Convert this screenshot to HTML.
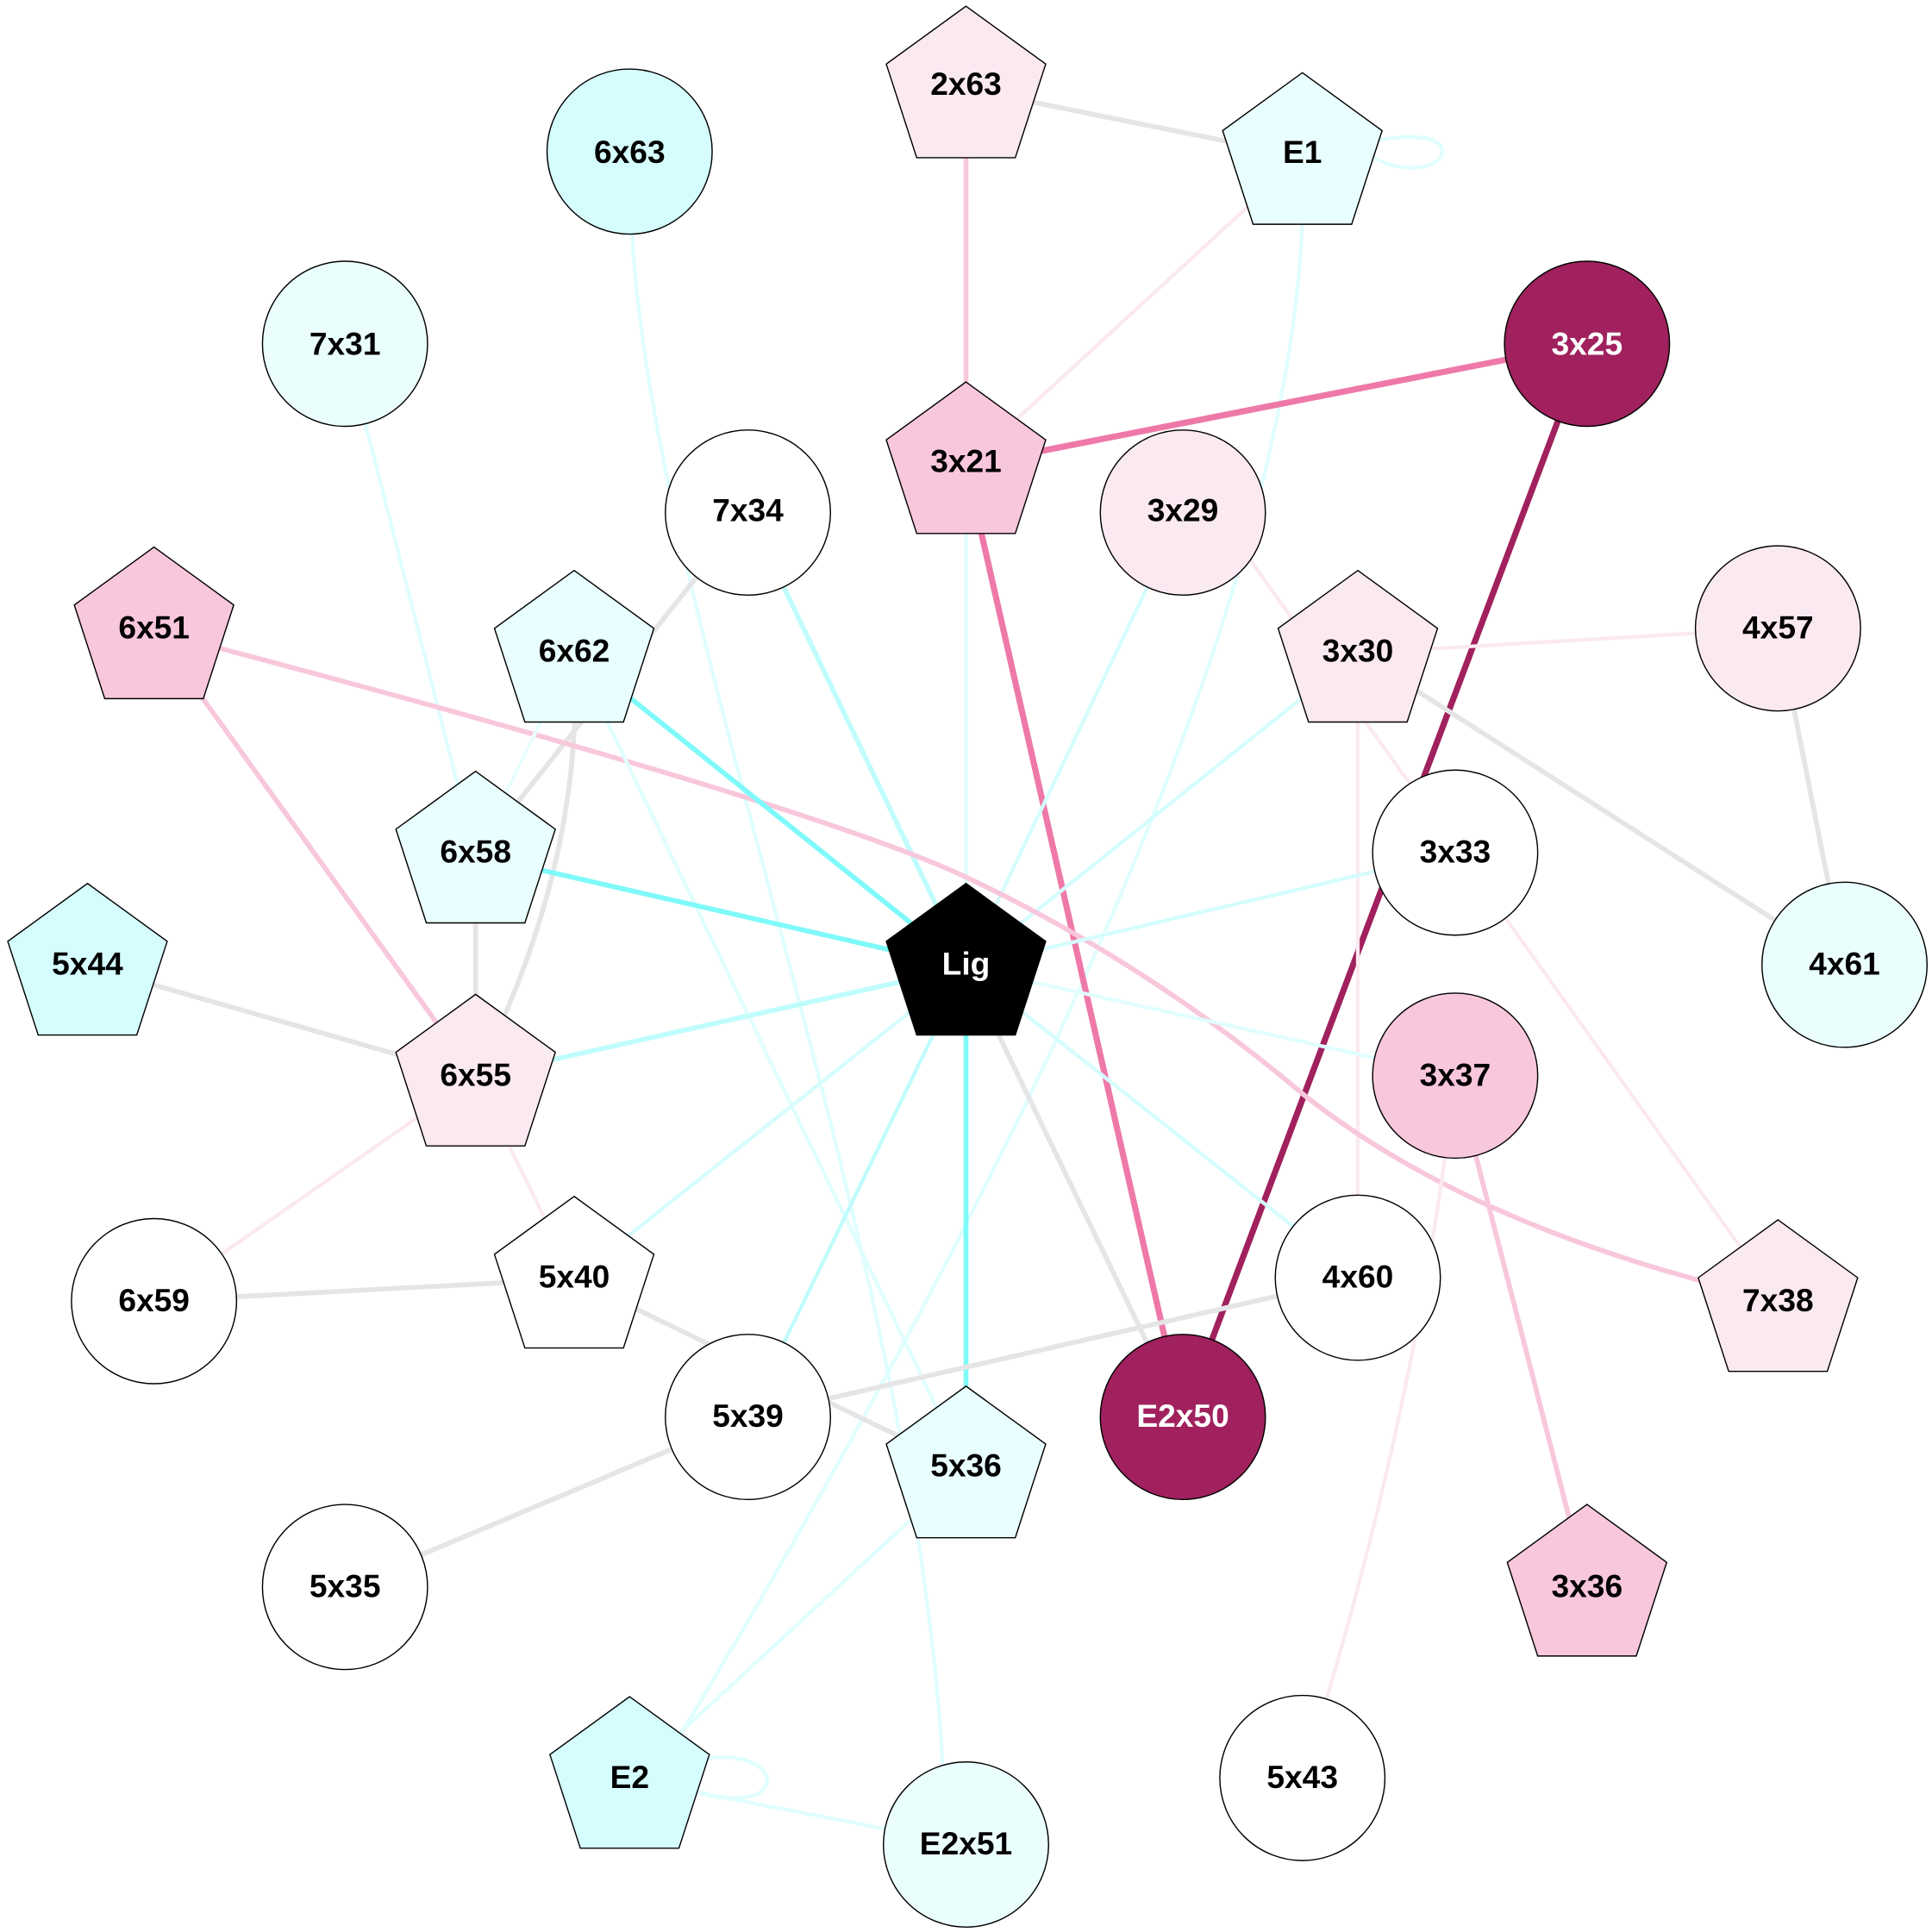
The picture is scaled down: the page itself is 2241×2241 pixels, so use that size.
<!DOCTYPE html>
<html><head><style>html,body{margin:0;padding:0;background:#fff}svg{display:block}</style></head>
<body>
<svg width="2241" height="2241" viewBox="0 0 1568 1568" xmlns="http://www.w3.org/2000/svg">
<g fill="none" stroke-linecap="round">
<line x1="784" y1="72" x2="1057" y2="127" stroke="#e5e5e5" stroke-width="4"/>
<line x1="784" y1="72" x2="784" y2="378" stroke="#f8c7dc" stroke-width="4"/>
<line x1="1057" y1="127" x2="784" y2="378" stroke="#fbe9f1" stroke-width="3"/>
<path d="M1057 180 Q1040 600 545 1420" stroke="#e0fefe" stroke-width="3"/>
<path d="M1110 125 C1140 145 1175 135 1170 120 C1165 108 1130 110 1115 115" stroke="#e0fefe" stroke-width="3"/>
<line x1="784" y1="378" x2="1288" y2="279" stroke="#ee79a8" stroke-width="5"/>
<line x1="1288" y1="279" x2="960" y2="1150" stroke="#a0215e" stroke-width="5"/>
<line x1="784" y1="378" x2="960" y2="1150" stroke="#ee79a8" stroke-width="5"/>
<line x1="784" y1="378" x2="784" y2="785" stroke="#e0fefe" stroke-width="3"/>
<path d="M513 190 C530 500 740 1000 765 1430" stroke="#e0fefe" stroke-width="3"/>
<line x1="280" y1="279" x2="386" y2="694" stroke="#e0fefe" stroke-width="3"/>
<line x1="607" y1="416" x2="784" y2="785" stroke="#c0fcfc" stroke-width="4"/>
<line x1="607" y1="416" x2="386" y2="694" stroke="#e5e5e5" stroke-width="4"/>
<path d="M466 530 Q475 700 386 874" stroke="#e5e5e5" stroke-width="4"/>
<line x1="960" y1="416" x2="784" y2="785" stroke="#d5fdfd" stroke-width="3"/>
<line x1="1015" y1="455" x2="1443" y2="1055" stroke="#fbe9f1" stroke-width="3"/>
<line x1="1102" y1="530" x2="1443" y2="510" stroke="#fbe9f1" stroke-width="3"/>
<line x1="1102" y1="530" x2="1497" y2="783" stroke="#e5e5e5" stroke-width="4"/>
<line x1="1102" y1="530" x2="1102" y2="1037" stroke="#fbe9f1" stroke-width="3"/>
<line x1="1102" y1="530" x2="784" y2="785" stroke="#d5fdfd" stroke-width="3"/>
<line x1="1443" y1="510" x2="1497" y2="783" stroke="#e5e5e5" stroke-width="4"/>
<path d="M125 512 Q650 650 780 710 Q930 780 1060 890 Q1200 1000 1443 1055" stroke="#f8c7dc" stroke-width="4"/>
<line x1="125" y1="512" x2="386" y2="874" stroke="#f8c7dc" stroke-width="4"/>
<line x1="466" y1="530" x2="784" y2="785" stroke="#7ff9f9" stroke-width="4"/>
<line x1="466" y1="530" x2="386" y2="694" stroke="#e9fefe" stroke-width="3"/>
<line x1="466" y1="530" x2="784" y2="1192" stroke="#e0fefe" stroke-width="3"/>
<line x1="386" y1="694" x2="784" y2="785" stroke="#7ff9f9" stroke-width="4"/>
<line x1="386" y1="694" x2="386" y2="874" stroke="#e5e5e5" stroke-width="4"/>
<line x1="1181" y1="692" x2="784" y2="785" stroke="#d5fdfd" stroke-width="3"/>
<line x1="71" y1="784" x2="386" y2="874" stroke="#e5e5e5" stroke-width="4"/>
<line x1="386" y1="874" x2="784" y2="785" stroke="#c0fcfc" stroke-width="4"/>
<line x1="386" y1="874" x2="125" y2="1056" stroke="#fbe9f1" stroke-width="3"/>
<line x1="386" y1="874" x2="466" y2="1038" stroke="#fbe9f1" stroke-width="3"/>
<line x1="1181" y1="873" x2="784" y2="785" stroke="#e0fefe" stroke-width="3"/>
<line x1="1181" y1="873" x2="1288" y2="1288" stroke="#f8c7dc" stroke-width="4"/>
<path d="M1181 873 Q1150 1150 1057 1443" stroke="#fbe9f1" stroke-width="3"/>
<line x1="784" y1="785" x2="1102" y2="1037" stroke="#d5fdfd" stroke-width="3"/>
<line x1="784" y1="785" x2="960" y2="1150" stroke="#e5e5e5" stroke-width="4"/>
<line x1="784" y1="785" x2="784" y2="1192" stroke="#7ff9f9" stroke-width="4"/>
<line x1="784" y1="785" x2="466" y2="1038" stroke="#d5fdfd" stroke-width="3"/>
<line x1="784" y1="785" x2="607" y2="1150" stroke="#c0fcfc" stroke-width="3"/>
<line x1="125" y1="1056" x2="466" y2="1038" stroke="#e5e5e5" stroke-width="4"/>
<line x1="466" y1="1038" x2="784" y2="1192" stroke="#e5e5e5" stroke-width="4"/>
<line x1="1102" y1="1037" x2="607" y2="1150" stroke="#e5e5e5" stroke-width="4"/>
<line x1="607" y1="1150" x2="280" y2="1288" stroke="#e5e5e5" stroke-width="4"/>
<line x1="784" y1="1192" x2="511" y2="1444" stroke="#e0fefe" stroke-width="3"/>
<line x1="511" y1="1444" x2="784" y2="1497" stroke="#e0fefe" stroke-width="3"/>
<path d="M570 1428 C610 1420 630 1440 620 1452 C610 1462 585 1460 570 1456" stroke="#e0fefe" stroke-width="3"/>
</g>
<defs>
<polygon id="p" points="0,-68 64.7,-21 40,55 -40,55 -64.7,-21"/>
</defs>
<g stroke="#000" stroke-width="1">
<circle cx="511" cy="123" r="67" fill="#d5fdfd"/>
<circle cx="280" cy="279" r="67" fill="#ebfefe"/>
<circle cx="1288" cy="279" r="67" fill="#a0215e"/>
<circle cx="607" cy="416" r="67" fill="#fff"/>
<circle cx="960" cy="416" r="67" fill="#fbe9f1"/>
<circle cx="1443" cy="510" r="67" fill="#fbe9f1"/>
<circle cx="1181" cy="692" r="67" fill="#fff"/>
<circle cx="1497" cy="783" r="67" fill="#ebfefe"/>
<circle cx="1181" cy="873" r="67" fill="#f8c7dc"/>
<circle cx="125" cy="1056" r="67" fill="#fff"/>
<circle cx="1102" cy="1037" r="67" fill="#fff"/>
<circle cx="607" cy="1150" r="67" fill="#fff"/>
<circle cx="960" cy="1150" r="67" fill="#a0215e"/>
<circle cx="280" cy="1288" r="67" fill="#fff"/>
<circle cx="1057" cy="1443" r="67" fill="#fff"/>
<circle cx="784" cy="1497" r="67" fill="#ebfefe"/>
<use href="#p" x="784" y="73" fill="#fbe9f1"/>
<use href="#p" x="1057" y="127" fill="#e9fefe"/>
<use href="#p" x="784" y="378" fill="#f8c7dc"/>
<use href="#p" x="125" y="512" fill="#f8c7dc"/>
<use href="#p" x="466" y="531" fill="#e9fefe"/>
<use href="#p" x="1102" y="531" fill="#fbe9f1"/>
<use href="#p" x="386" y="694" fill="#e9fefe"/>
<use href="#p" x="71" y="785" fill="#d5fdfd"/>
<use href="#p" x="784" y="785" fill="#000"/>
<use href="#p" x="386" y="875" fill="#fbe9f1"/>
<use href="#p" x="466" y="1039" fill="#fff"/>
<use href="#p" x="1443" y="1058" fill="#fbe9f1"/>
<use href="#p" x="784" y="1193" fill="#e9fefe"/>
<use href="#p" x="1288" y="1289" fill="#f8c7dc"/>
<use href="#p" x="511" y="1445" fill="#d5fdfd"/>
</g>
<g font-family="Liberation Sans, Arial, sans-serif" font-weight="bold" font-size="26" text-anchor="middle" dominant-baseline="central" fill="#000">
<text x="784" y="68">2x63</text>
<text x="511" y="123">6x63</text>
<text x="1057" y="123">E1</text>
<text x="280" y="279">7x31</text>
<text x="1288" y="279" fill="#fff">3x25</text>
<text x="784" y="374">3x21</text>
<text x="607" y="414">7x34</text>
<text x="960" y="414">3x29</text>
<text x="125" y="509">6x51</text>
<text x="466" y="528">6x62</text>
<text x="1102" y="528">3x30</text>
<text x="1443" y="509">4x57</text>
<text x="386" y="691">6x58</text>
<text x="1181" y="691">3x33</text>
<text x="71" y="782">5x44</text>
<text x="784" y="782" fill="#fff">Lig</text>
<text x="1497" y="782">4x61</text>
<text x="386" y="872">6x55</text>
<text x="1181" y="872">3x37</text>
<text x="125" y="1055">6x59</text>
<text x="466" y="1036">5x40</text>
<text x="1102" y="1036">4x60</text>
<text x="1443" y="1055">7x38</text>
<text x="607" y="1149">5x39</text>
<text x="960" y="1149" fill="#fff">E2x50</text>
<text x="784" y="1189">5x36</text>
<text x="280" y="1287">5x35</text>
<text x="1288" y="1287">3x36</text>
<text x="1057" y="1442">5x43</text>
<text x="511" y="1442">E2</text>
<text x="784" y="1496">E2x51</text>
</g>
</svg>
</body></html>
